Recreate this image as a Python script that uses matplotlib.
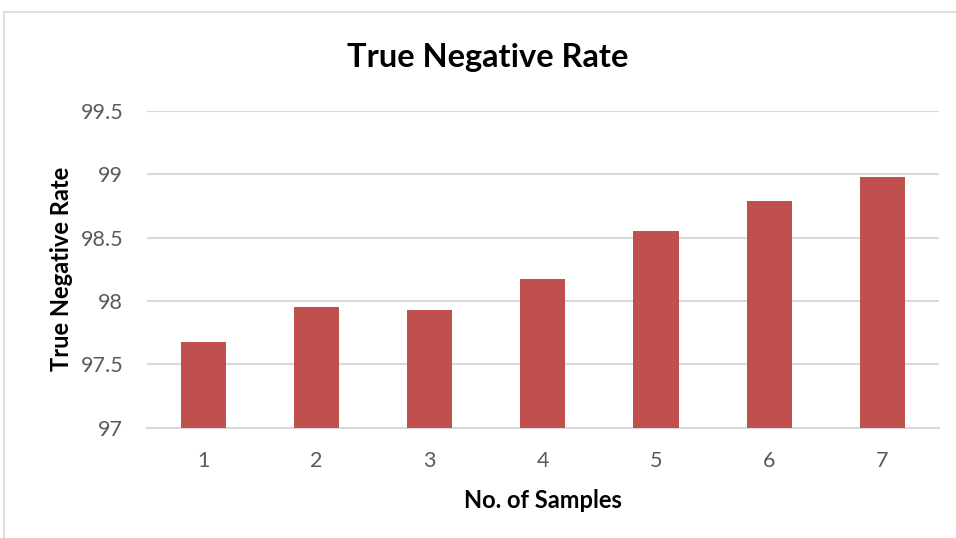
import matplotlib.pyplot as plt
from matplotlib.patches import Rectangle

samples = ["1", "2", "3", "4", "5", "6", "7"]
tnr = [97.673, 97.95, 97.93, 98.175, 98.55, 98.79, 98.98]
yticks = [97, 97.5, 98, 98.5, 99, 99.5]
ytick_labels = ["97", "97.5", "98", "98.5", "99", "99.5"]

plt.rcParams['font.family'] = ['Lato', 'DejaVu Sans']

fig = plt.figure(figsize=(9.56, 5.38), dpi=100)
ax = fig.add_axes([0.1535, 0.205, 0.8287, 0.5887])

# chart border
fig.patches.append(Rectangle((4 / 956, -0.1), 1.1, 1 - 12 / 538 + 0.1,
                             transform=fig.transFigure, fill=False,
                             edgecolor="#d9d9d9", linewidth=1.2))

x = range(len(samples))
ax.bar(x, tnr, width=0.4, color="#C0504D", zorder=3)

ax.set_xlim(-0.5, len(samples) - 0.5)
ax.set_ylim(97, 99.5)
ax.set_yticks(yticks)
ax.set_yticklabels(ytick_labels)
ax.set_xticks(list(x))
ax.set_xticklabels(samples)
ax.grid(axis="y", color="#d9d9d9", linewidth=1.5, zorder=0)
for s in ["top", "right", "left"]:
    ax.spines[s].set_visible(False)
ax.spines["bottom"].set_color("#d9d9d9")
ax.spines["bottom"].set_linewidth(1.5)
ax.tick_params(length=0, labelsize=15.5, colors="#595959")
ax.tick_params(axis="x", pad=17)
ax.tick_params(axis="y", pad=17)

fig.text(488 / 956, 1 - 57 / 538, "True Negative Rate", fontsize=23.5,
         fontweight="bold", ha="center", va="center")
ax.set_xlabel("No. of Samples", fontsize=17, fontweight="bold", labelpad=13)
ax.set_ylabel("True Negative Rate", fontsize=17, fontweight="bold", labelpad=5)

plt.savefig("out.png", dpi=100)
